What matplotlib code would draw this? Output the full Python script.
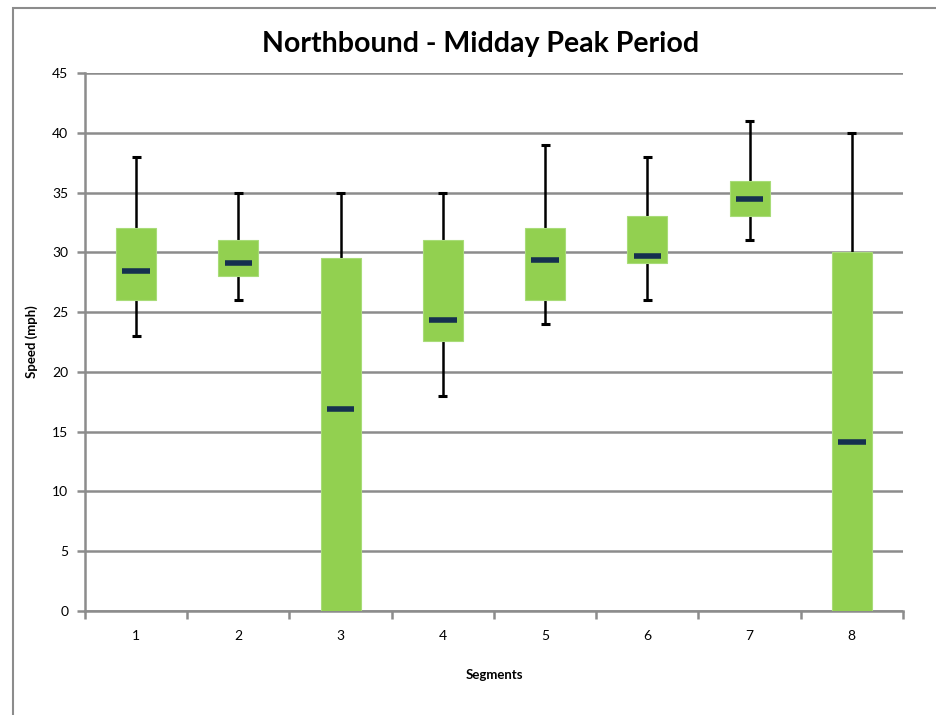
import matplotlib
matplotlib.use("Agg")
import matplotlib.pyplot as plt
from matplotlib.patches import Rectangle

segments = ["1", "2", "3", "4", "5", "6", "7", "8"]
whisker_low = [23, 26, 0, 18, 24, 26, 31, 0]
q1 = [26, 28, 0, 22.6, 26, 29.1, 33, 0]
median = [28.4, 29.1, 16.9, 24.3, 29.4, 29.7, 34.5, 14.1]
q3 = [32, 31, 29.5, 31, 32, 33, 36, 30]
whisker_high = [38, 35, 35, 35, 39, 38, 41, 40]

GREEN = "#92D050"
NAVY = "#15304F"
GRID = "#8C8C8C"
FONT = "Lato"

fig = plt.figure(figsize=(9.37, 7.15), dpi=100)
# outer chart border
fig.patches.append(Rectangle((12.5 / 937, -0.1), 1.2, 1.1 - 8.5 / 715,
                             transform=fig.transFigure, fill=False,
                             edgecolor="#8C8C8C", linewidth=1.5))

ax = fig.add_axes([85 / 937, 1 - 611 / 715, (903 - 85) / 937, (611 - 73) / 715])
n = len(segments)
xs = list(range(n))
ax.set_xlim(-0.5, n - 0.5)
ax.set_ylim(0, 45)

# gridlines
ax.set_yticks(range(0, 46, 5))
ax.yaxis.grid(True, color=GRID, linewidth=1.8, zorder=0)
ax.set_axisbelow(True)

bw = 0.39
cap = 0.09
med_w = 0.27
for i in xs:
    if whisker_high[i] > q3[i]:
        ax.vlines(i, q3[i], whisker_high[i], color="black", linewidth=1.8, zorder=2)
        ax.hlines(whisker_high[i], i - cap / 2, i + cap / 2, color="black", linewidth=2.2, zorder=2)
    if whisker_low[i] < q1[i]:
        ax.vlines(i, whisker_low[i], q1[i], color="black", linewidth=1.8, zorder=2)
        ax.hlines(whisker_low[i], i - cap / 2, i + cap / 2, color="black", linewidth=2.2, zorder=2)
    ax.bar(i, q3[i] - q1[i], bottom=q1[i], width=bw, color=GREEN,
           edgecolor="#A8DC78", linewidth=0.8, zorder=3)
    ax.hlines(median[i], i - med_w / 2, i + med_w / 2, color=NAVY,
              linewidth=4.0, zorder=4)

for s in ["top", "right"]:
    ax.spines[s].set_visible(False)
ax.spines["left"].set_color(GRID)
ax.spines["left"].set_linewidth(1.8)
ax.spines["bottom"].set_color(GRID)
ax.spines["bottom"].set_linewidth(1.8)

ax.tick_params(axis="y", direction="out", length=6, width=1.8, color=GRID,
               labelsize=10, pad=6)
for lab in ax.get_yticklabels():
    lab.set_fontfamily(FONT)

ax.set_xticks([i - 0.5 for i in range(n + 1)])
ax.set_xticklabels([])
ax.tick_params(axis="x", which="major", direction="out", length=6, width=1.8, color=GRID)
ax.set_xticks(xs, minor=True)
ax.set_xticklabels(segments, minor=True, fontfamily=FONT, fontsize=10)
ax.tick_params(axis="x", which="minor", length=0, pad=14)

ax.set_xlabel("Segments", fontfamily=FONT, fontsize=9.5, fontweight="bold", labelpad=19)
ax.set_ylabel("Speed (mph)", fontfamily=FONT, fontsize=9.5, fontweight="bold", labelpad=10)

fig.text(481 / 937, 1 - 44 / 715, "Northbound - Midday Peak Period", ha="center",
         va="center", fontfamily=FONT, fontsize=20.5, fontweight="bold")

fig.savefig("out.png", dpi=100)
